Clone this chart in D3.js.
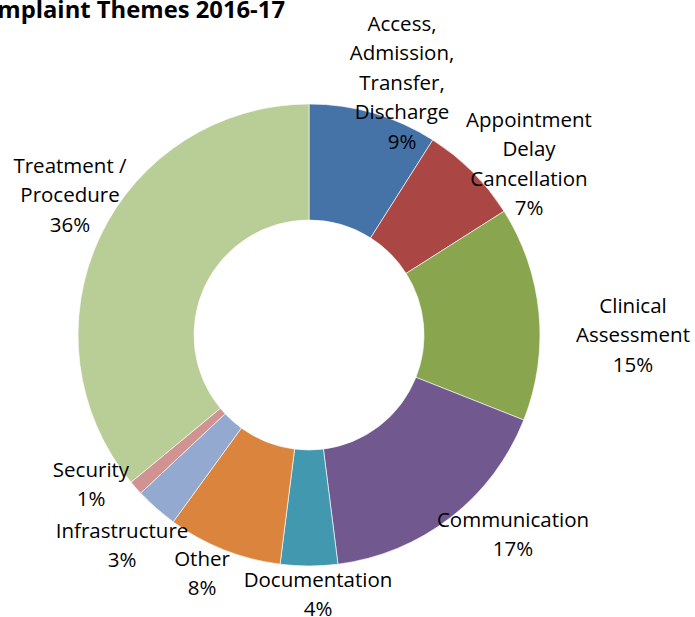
<!DOCTYPE html>
<html>
<head>
<meta charset="utf-8">
<script src="https://cdn.jsdelivr.net/npm/d3@7"></script>
<style>
  html, body { margin: 0; padding: 0; background: #fff; overflow: hidden; }
  svg { display: block; }
  text { font-family: "Open Sans", Lato, sans-serif; fill: #000; }
</style>
</head>
<body>
<svg id="chart" width="695" height="617"></svg>
<script>
// Complaint themes, share of all complaints (%)
const themes = [
  "Access, Admission, Transfer, Discharge",
  "Appointment Delay Cancellation",
  "Clinical Assessment",
  "Communication",
  "Documentation",
  "Other",
  "Infrastructure",
  "Security",
  "Treatment / Procedure"
];
const shares = [9, 7, 15, 17, 4, 8, 3, 1, 36];
const palette = ["#4572A7", "#AA4643", "#89A54E", "#71588F", "#4198AF",
                 "#DB843D", "#93A9CF", "#D19392", "#B9CD96"];

// Label text broken into lines as they are set on the chart
const labelLines = [
  ["Access,", "Admission,", "Transfer,", "Discharge"],
  ["Appointment", "Delay", "Cancellation"],
  ["Clinical", "Assessment"],
  ["Communication"],
  ["Documentation"],
  ["Other"],
  ["Infrastructure"],
  ["Security"],
  ["Treatment /", "Procedure"]
];
// Label anchor (centre x, first baseline y) relative to the ring centre
const labelAnchors = [
  [93, -304], [220, -208], [324, -22], [204, 192], [9, 252],
  [-107, 231], [-187, 203], [-218, 142], [-239, -162]
];

const width = 695, height = 617;
const cx = 309, cy = 335;
const outerR = 231, innerR = 115;
const lineH = 29.4;

const svg = d3.select("#chart");

svg.append("text")
  .attr("x", 285).attr("y", 18)
  .attr("text-anchor", "end")
  .style("font-weight", "bold")
  .style("font-size", "23.8px")
  .text("Complaint Themes 2016-17");

const data = themes.map((t, i) => ({ theme: t, value: shares[i], i }));

const pie = d3.pie().value(d => d.value).sort(null);
const arc = d3.arc().innerRadius(innerR).outerRadius(outerR);

const g = svg.append("g").attr("transform", `translate(${cx},${cy})`);

g.selectAll("path.slice")
  .data(pie(data))
  .join("path")
  .attr("class", "slice")
  .attr("d", arc)
  .attr("fill", d => palette[d.data.i])
  .attr("stroke", "#ffffff")
  .attr("stroke-opacity", 0.8)
  .attr("stroke-width", 0.8);

const labels = g.selectAll("text.lbl")
  .data(data)
  .join("text")
  .attr("class", "lbl")
  .attr("text-anchor", "middle")
  .style("font-size", "20.5px");

labels.each(function(d) {
  const t = d3.select(this);
  const [ax, ay] = labelAnchors[d.i];
  const lines = labelLines[d.i].concat([d.value + "%"]);
  lines.forEach((ln, k) => {
    t.append("tspan").attr("x", ax).attr("y", ay + k * lineH).text(ln);
  });
});
</script>
</body>
</html>
